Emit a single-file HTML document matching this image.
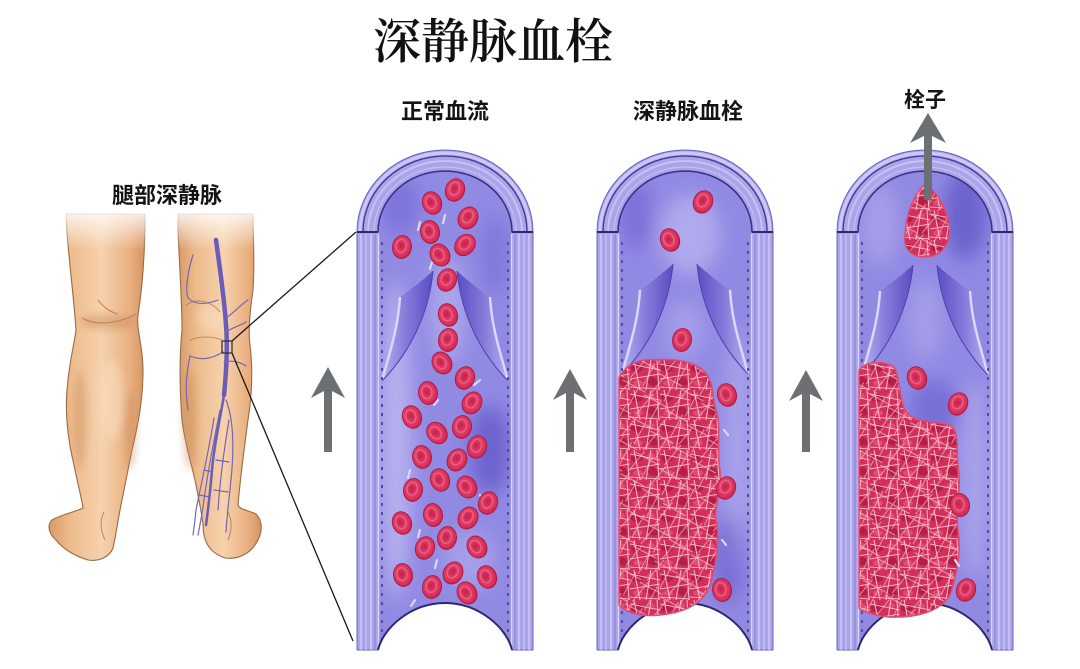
<!DOCTYPE html>
<html><head><meta charset="utf-8">
<style>
html,body{margin:0;padding:0;background:#fff}
body{width:1080px;height:669px;overflow:hidden;position:relative}
.t{position:absolute;white-space:nowrap;font-family:"Liberation Sans","Noto Sans CJK SC",sans-serif;font-weight:bold;color:#141414;line-height:1}
</style></head>
<body>
<svg width="1080" height="669" viewBox="0 0 1080 669" style="position:absolute;left:0;top:0">
<defs>
  <linearGradient id="skin" x1="0" y1="0" x2="1" y2="0">
    <stop offset="0" stop-color="#d99a66"/>
    <stop offset=".22" stop-color="#edbb8c"/>
    <stop offset=".55" stop-color="#f6d2ad"/>
    <stop offset=".85" stop-color="#e9ae7e"/>
    <stop offset="1" stop-color="#d49463"/>
  </linearGradient>
  <linearGradient id="fadeTop" x1="0" y1="0" x2="0" y2="1">
    <stop offset="0" stop-color="#fff" stop-opacity="1"/>
    <stop offset="1" stop-color="#fff" stop-opacity="0"/>
  </linearGradient>
  <radialGradient id="rg" cx=".45" cy=".45" r=".6">
    <stop offset="0" stop-color="#c41f48"/>
    <stop offset=".5" stop-color="#e0406a"/>
    <stop offset=".8" stop-color="#d62c57"/>
    <stop offset="1" stop-color="#bb1c45"/>
  </radialGradient>
  <linearGradient id="leafL" x1="0" y1="0" x2="1" y2="0">
    <stop offset="0" stop-color="#b3adef"/>
    <stop offset=".5" stop-color="#8378d9"/>
    <stop offset="1" stop-color="#5a4ec2"/>
  </linearGradient>
  <linearGradient id="leafR" x1="1" y1="0" x2="0" y2="0">
    <stop offset="0" stop-color="#b3adef"/>
    <stop offset=".5" stop-color="#8378d9"/>
    <stop offset="1" stop-color="#5a4ec2"/>
  </linearGradient>
  <filter id="bl" x="-50%" y="-50%" width="200%" height="200%"><feGaussianBlur stdDeviation="9"/></filter>
  <filter id="bl2" x="-50%" y="-50%" width="200%" height="200%"><feGaussianBlur stdDeviation="4"/></filter>

  <pattern id="clotp" width="30" height="30" patternUnits="userSpaceOnUse">
    <rect width="30" height="30" fill="#d42e5a"/>
    <ellipse cx="7" cy="8" rx="6" ry="4" fill="#b51e48"/>
    <ellipse cx="22" cy="21" rx="6" ry="4" fill="#b51e48" transform="rotate(30 22 21)"/>
    <ellipse cx="21" cy="6" rx="4" ry="3" fill="#e24b74"/>
    <ellipse cx="8" cy="23" rx="5" ry="3" fill="#e24b74"/>
    <g stroke="#f4b4c3" stroke-width="1.1" fill="none">
      <path d="M0,4 L30,10"/><path d="M0,19 L30,14"/><path d="M4,0 L10,30"/>
      <path d="M21,0 L16,30"/><path d="M0,27 L30,29"/><path d="M27,0 L29,30"/>
    </g>
  </pattern>
  <pattern id="clotq" width="26" height="26" patternUnits="userSpaceOnUse" patternTransform="rotate(35)">
    <path d="M0,6 L26,3 M7,0 L5,26 M17,0 L20,26" stroke="#f8cfd8" stroke-width=".9" fill="none" opacity=".7"/>
  </pattern>

  <g id="rbc">
    <ellipse rx="9.5" ry="11.5" fill="url(#rg)" stroke="#a8173c" stroke-width=".8"/>
    <ellipse cx="-1" cy="-1" rx="5" ry="6.5" fill="none" stroke="#ef6d8c" stroke-width="1.4" opacity=".7"/>
  </g>

  <g id="vessel">
    <path d="M0,650 V232 A88,82 0 0 1 176,232 V650 H155 C150,628 122,603 88,603 C54,603 26,628 21,650 Z" fill="#aaa4e9" stroke="#6a61c0" stroke-width="1"/>
    <g fill="none">
      <path d="M3,232 A85,79 0 0 1 173,232" stroke="#cdc9f6" stroke-width="3"/>
      <path d="M6,232 A82,76 0 0 1 170,232" stroke="#3f3690" stroke-width="1.3"/>
      <path d="M11,232 A77,71 0 0 1 165,232" stroke="#c8c3f5" stroke-width="2"/>
      <path d="M17,232 A71,65 0 0 1 159,232" stroke="#c4bff3" stroke-width="1.2"/>
    </g>
    <g stroke-width="1.5">
      <line x1="4" y1="234" x2="4" y2="650" stroke="#cdc9f6"/>
      <line x1="9" y1="234" x2="9" y2="650" stroke="#c3bef3"/>
      <line x1="14" y1="234" x2="14" y2="650" stroke="#cfcbf6"/>
      <line x1="18" y1="234" x2="18" y2="650" stroke="#938bdb"/>
      <line x1="172" y1="234" x2="172" y2="650" stroke="#cdc9f6"/>
      <line x1="167" y1="234" x2="167" y2="650" stroke="#c3bef3"/>
      <line x1="162" y1="234" x2="162" y2="650" stroke="#cfcbf6"/>
      <line x1="158" y1="234" x2="158" y2="650" stroke="#938bdb"/>
    </g>
    <path d="M21,650 V232 A67,61 0 0 1 155,232 V650 C150,628 122,603 88,603 C54,603 26,628 21,650 Z" fill="#918ae3"/>
  </g>
  <g id="vesselTop">
    <path d="M21,232 A67,61 0 0 1 155,232" fill="none" stroke="#3a3288" stroke-width="1.6"/>
    <line x1="0" y1="232" x2="21" y2="232" stroke="#2e2870" stroke-width="2"/>
    <line x1="155" y1="232" x2="176" y2="232" stroke="#2e2870" stroke-width="2"/>
    <line x1="21.5" y1="234" x2="21.5" y2="648" stroke="#d6d2f8" stroke-width="1.5"/>
    <line x1="154.5" y1="234" x2="154.5" y2="648" stroke="#d6d2f8" stroke-width="1.5"/>
    <line x1="25" y1="242" x2="25" y2="640" stroke="#5b48a8" stroke-width="2" stroke-dasharray="3 6"/>
    <line x1="151" y1="242" x2="151" y2="640" stroke="#5b48a8" stroke-width="2" stroke-dasharray="3 6"/>
    <path d="M21,650 C26,628 54,603 88,603 C122,603 150,628 155,650" fill="none" stroke="#2f2870" stroke-width="2"/>
  </g>
  <g id="valves">
    <path d="M43,26 C55,18 67,8 76,0 C73,32 60,74 25,110 C31,86 41,60 43,26 Z" fill="url(#leafL)"/>
    <path d="M43,26 C41,60 31,86 25,110" fill="none" stroke="#dcd8fa" stroke-width="2.4"/>
    <path d="M76,0 C73,32 60,74 25,110" fill="none" stroke="#4d42ad" stroke-width="1"/>
    <path d="M133,26 C121,18 109,8 100,0 C103,32 116,74 151,110 C145,86 135,60 133,26 Z" fill="url(#leafR)"/>
    <path d="M133,26 C135,60 145,86 151,110" fill="none" stroke="#dcd8fa" stroke-width="2.4"/>
    <path d="M100,0 C103,32 116,74 151,110" fill="none" stroke="#4d42ad" stroke-width="1"/>
  </g>

  <clipPath id="c1"><path transform="translate(357,0)" d="M21,650 V232 A67,61 0 0 1 155,232 V650 C150,628 122,603 88,603 C54,603 26,628 21,650 Z"/></clipPath>
  <clipPath id="c2"><path transform="translate(597,0)" d="M21,650 V232 A67,61 0 0 1 155,232 V650 C150,628 122,603 88,603 C54,603 26,628 21,650 Z"/></clipPath>
  <clipPath id="c3"><path transform="translate(837,0)" d="M21,650 V232 A67,61 0 0 1 155,232 V650 C150,628 122,603 88,603 C54,603 26,628 21,650 Z"/></clipPath>
</defs>

<!-- ===== LEGS ===== -->
<g stroke="#9a6a44" stroke-width="1.1">
  <path d="M66,214 L67,233 C70,270 74,300 76,330 C74,345 70,360 68,380 C64,410 68,440 74,465 C78,485 82,500 83,508 C75,512 60,515 52,520 C46,526 50,535 56,540 C64,550 75,556 88,560 C100,562 110,556 113,548 C116,535 118,520 120,510 C124,490 128,470 132,450 C138,425 143,400 143,370 C143,345 136,330 138,315 C142,290 145,260 145,214 Z" fill="url(#skin)"/>
  <path d="M178,214 L178,233 C180,270 182,310 182,330 C180,350 179,380 182,420 C185,445 192,465 196,485 C199,500 202,515 203,525 C203,540 208,552 225,558 C240,560 252,552 258,540 C263,530 262,520 256,514 C248,510 240,510 238,505 C240,480 244,450 248,420 C252,395 253,370 250,345 C248,330 250,310 253,290 C255,260 253,240 253,214 Z" fill="url(#skin)"/>
</g>
<g opacity=".45" filter="url(#bl2)">
  <ellipse cx="108" cy="322" rx="28" ry="7" fill="#c58555"/>
  <ellipse cx="80" cy="420" rx="6" ry="50" fill="#c98a5a"/>
  <ellipse cx="130" cy="430" rx="6" ry="40" fill="#c98a5a"/>
  <ellipse cx="112" cy="400" rx="12" ry="40" fill="#fbe3ca"/>
  <ellipse cx="190" cy="420" rx="7" ry="50" fill="#c98a5a"/>
  <ellipse cx="212" cy="318" rx="14" ry="14" fill="#fbe3ca"/>
</g>
<g fill="none" stroke="#b67a4e" stroke-width="1.1" opacity=".8">
  <path d="M82,318 C95,326 118,324 136,314"/>
  <path d="M98,300 C104,308 110,312 118,314"/>
  <path d="M186,305 C196,298 210,300 220,312"/>
  <path d="M190,340 C200,336 212,336 222,340"/>
  <path d="M105,540 C100,530 100,520 104,512"/>
  <path d="M228,540 C232,530 232,520 228,512"/>
</g>
<rect x="40" y="205" width="230" height="45" fill="url(#fadeTop)"/>
<g fill="none" stroke-linecap="round">
  <path d="M216,240 C220,270 224,295 226,325 C228,350 226,375 224,395" stroke="#6b5cb8" stroke-width="4.5"/>
  <path d="M224,395 C220,420 214,445 212,470 C210,495 208,510 206,525" stroke="#6b5cb8" stroke-width="2.5"/>
  <g stroke="#7566b6" stroke-width="1.2">
    <path d="M226,400 C234,420 234,450 231,480 C229,500 227,515 226,532"/>
    <path d="M220,410 C214,440 208,470 204,500 C202,515 200,525 198,535"/>
    <path d="M214,418 C209,450 202,480 196,510 C195,520 194,528 193,535"/>
    <path d="M229,420 C224,450 220,480 218,510"/>
    <path d="M204,470 L212,472 M200,495 L209,497 M216,460 L229,462 M214,490 L228,492"/>
    <path d="M218,300 C205,305 195,305 188,298 C185,290 188,270 193,255"/>
    <path d="M226,318 C235,312 240,305 248,300"/>
    <path d="M226,332 C233,327 240,326 246,322"/>
    <path d="M223,352 C210,360 200,360 190,356 C186,375 185,390 188,410"/>
    <path d="M224,362 C232,360 240,362 246,366"/>
  </g>
</g>
<rect x="222" y="341" width="10" height="12" fill="none" stroke="#2a2a2a" stroke-width="1.2"/>
<line x1="232" y1="341" x2="356" y2="232" stroke="#1a1a1a" stroke-width="1.3"/>
<line x1="232" y1="353" x2="353" y2="641" stroke="#1a1a1a" stroke-width="1.3"/>

<!-- ===== VESSELS ===== -->
<use href="#vessel" transform="translate(357,0)"/>
<use href="#vessel" transform="translate(597,0)"/>
<use href="#vessel" transform="translate(837,0)"/>

<g clip-path="url(#c1)">
  <g filter="url(#bl)">
    <ellipse cx="396" cy="440" rx="16" ry="160" fill="#c6c1f4" opacity=".7"/>
    <ellipse cx="490" cy="450" rx="20" ry="45" fill="#5548c0" opacity=".6"/>
    <ellipse cx="400" cy="205" rx="18" ry="30" fill="#6a5ed0" opacity=".5"/>
    <ellipse cx="448" cy="310" rx="18" ry="55" fill="#bdb7f2" opacity=".6"/>
    <ellipse cx="495" cy="255" rx="15" ry="40" fill="#6a5ed0" opacity=".4"/>
    <ellipse cx="470" cy="560" rx="25" ry="30" fill="#b9b3f0" opacity=".5"/>
  </g>
</g>
<g clip-path="url(#c2)">
  <g filter="url(#bl)">
    <ellipse cx="690" cy="235" rx="30" ry="40" fill="#bdb7f2" opacity=".7"/>
    <ellipse cx="636" cy="215" rx="16" ry="35" fill="#6558cc" opacity=".5"/>
    <ellipse cx="738" cy="450" rx="14" ry="120" fill="#b8b2f0" opacity=".6"/>
    <ellipse cx="728" cy="560" rx="16" ry="45" fill="#5f52c6" opacity=".5"/>
    <ellipse cx="685" cy="330" rx="20" ry="30" fill="#b5aff0" opacity=".5"/>
  </g>
</g>
<g clip-path="url(#c3)">
  <g filter="url(#bl)">
    <ellipse cx="965" cy="215" rx="22" ry="45" fill="#5448c0" opacity=".6"/>
    <ellipse cx="880" cy="225" rx="18" ry="40" fill="#bab4f2" opacity=".5"/>
    <ellipse cx="925" cy="320" rx="18" ry="40" fill="#b5aff0" opacity=".5"/>
    <ellipse cx="935" cy="410" rx="25" ry="30" fill="#5a4ec4" opacity=".45"/>
    <ellipse cx="975" cy="480" rx="14" ry="100" fill="#b8b2f0" opacity=".6"/>
  </g>
</g>

<use href="#valves" transform="translate(357,271)"/>
<use href="#valves" transform="translate(597,264)"/>
<use href="#valves" transform="translate(837,265)"/>

<use href="#vesselTop" transform="translate(357,0)"/>
<use href="#vesselTop" transform="translate(597,0)"/>
<use href="#vesselTop" transform="translate(837,0)"/>

<g>
  <path d="M619,378 C625,365 640,358 655,360 C675,358 695,362 705,372 C715,385 712,400 716,410 C722,430 716,450 720,470 C722,490 714,505 716,520 C720,540 716,560 712,578 C708,600 690,612 660,615 C640,617 625,612 619,605 Z" fill="url(#clotp)"/>
  <path d="M619,378 C625,365 640,358 655,360 C675,358 695,362 705,372 C715,385 712,400 716,410 C722,430 716,450 720,470 C722,490 714,505 716,520 C720,540 716,560 712,578 C708,600 690,612 660,615 C640,617 625,612 619,605 Z" fill="url(#clotq)" stroke="#e04a73" stroke-width="1.5"/>
  <path d="M859,370 C865,362 880,360 893,366 C900,372 898,395 905,410 C915,425 935,420 950,425 C960,432 956,450 958,465 C962,490 955,510 958,530 C962,555 955,580 950,595 C940,612 915,618 890,617 C875,616 864,612 859,608 Z" fill="url(#clotp)"/>
  <path d="M859,370 C865,362 880,360 893,366 C900,372 898,395 905,410 C915,425 935,420 950,425 C960,432 956,450 958,465 C962,490 955,510 958,530 C962,555 955,580 950,595 C940,612 915,618 890,617 C875,616 864,612 859,608 Z" fill="url(#clotq)" stroke="#e04a73" stroke-width="1.5"/>
  <path d="M925,184 C935,190 946,205 949,225 C952,245 940,257 925,257 C912,257 903,250 905,235 C906,215 913,195 925,184 Z" fill="url(#clotp)"/>
  <path d="M925,184 C935,190 946,205 949,225 C952,245 940,257 925,257 C912,257 903,250 905,235 C906,215 913,195 925,184 Z" fill="url(#clotq)" stroke="#e04a73" stroke-width="1.5"/>
</g>

<g stroke="#dcd7fa" stroke-width="2.2" stroke-linecap="round">
  <line x1="420" y1="222" x2="418" y2="230"/><line x1="445" y1="215" x2="443" y2="223"/>
  <line x1="432" y1="262" x2="430" y2="269"/><line x1="474" y1="385" x2="480" y2="380"/>
  <line x1="438" y1="400" x2="434" y2="405"/><line x1="410" y1="470" x2="408" y2="478"/>
  <line x1="420" y1="530" x2="418" y2="537"/><line x1="437" y1="560" x2="435" y2="568"/>
  <line x1="415" y1="600" x2="411" y2="606"/><line x1="480" y1="495" x2="483" y2="500"/>
  <line x1="724" y1="430" x2="728" y2="435"/><line x1="722" y1="540" x2="726" y2="545"/>
  <line x1="955" y1="560" x2="959" y2="566"/>
</g>

<g>
  <use href="#rbc" transform="translate(455,190) rotate(20)"/>
  <use href="#rbc" transform="translate(432,203) rotate(-20)"/>
  <use href="#rbc" transform="translate(468,218) rotate(30)"/>
  <use href="#rbc" transform="translate(430,232) rotate(-10)"/>
  <use href="#rbc" transform="translate(402,247) rotate(10)"/>
  <use href="#rbc" transform="translate(465,245) rotate(40)"/>
  <use href="#rbc" transform="translate(440,255) rotate(-30)"/>
  <use href="#rbc" transform="translate(447,280) rotate(20)"/>
  <use href="#rbc" transform="translate(448,315) rotate(-20)"/>
  <use href="#rbc" transform="translate(448,340) rotate(10)"/>
  <use href="#rbc" transform="translate(442,363) rotate(-30)"/>
  <use href="#rbc" transform="translate(465,378) rotate(20)"/>
  <use href="#rbc" transform="translate(428,393) rotate(-10)"/>
  <use href="#rbc" transform="translate(472,403) rotate(30)"/>
  <use href="#rbc" transform="translate(412,417) rotate(-20)"/>
  <use href="#rbc" transform="translate(462,427) rotate(10)"/>
  <use href="#rbc" transform="translate(437,433) rotate(-40)"/>
  <use href="#rbc" transform="translate(477,447) rotate(20)"/>
  <use href="#rbc" transform="translate(422,457) rotate(-10)"/>
  <use href="#rbc" transform="translate(457,460) rotate(30)"/>
  <use href="#rbc" transform="translate(440,480) rotate(-20)"/>
  <use href="#rbc" transform="translate(413,490) rotate(10)"/>
  <use href="#rbc" transform="translate(467,487) rotate(-30)"/>
  <use href="#rbc" transform="translate(488,503) rotate(20)"/>
  <use href="#rbc" transform="translate(433,515) rotate(-10)"/>
  <use href="#rbc" transform="translate(468,518) rotate(30)"/>
  <use href="#rbc" transform="translate(402,523) rotate(-20)"/>
  <use href="#rbc" transform="translate(447,538) rotate(10)"/>
  <use href="#rbc" transform="translate(477,547) rotate(-30)"/>
  <use href="#rbc" transform="translate(425,548) rotate(20)"/>
  <use href="#rbc" transform="translate(403,575) rotate(-10)"/>
  <use href="#rbc" transform="translate(453,573) rotate(30)"/>
  <use href="#rbc" transform="translate(487,577) rotate(-20)"/>
  <use href="#rbc" transform="translate(432,587) rotate(10)"/>
  <use href="#rbc" transform="translate(467,593) rotate(-30)"/>

  <use href="#rbc" transform="translate(703,202) rotate(25)"/>
  <use href="#rbc" transform="translate(670,240) rotate(-20)"/>
  <use href="#rbc" transform="translate(682,340) rotate(10)"/>
  <use href="#rbc" transform="translate(727,395) rotate(-15)"/>
  <use href="#rbc" transform="translate(726,488) rotate(20)"/>
  <use href="#rbc" transform="translate(722,590) rotate(-10)"/>

  <use href="#rbc" transform="translate(917,378) rotate(-20)"/>
  <use href="#rbc" transform="translate(958,404) rotate(25)"/>
  <use href="#rbc" transform="translate(960,505) rotate(-10)"/>
  <use href="#rbc" transform="translate(966,590) rotate(20)"/>
</g>

<g fill="#6d7072">
  <polygon points="328,367 345,398 332,391 332,452 324,452 324,391 311,398"/>
  <polygon points="570,369 587,400 574,393 574,452 566,452 566,393 553,400"/>
  <polygon points="806,370 823,401 810,394 810,452 802,452 802,394 789,401"/>
  <polygon points="928,113 946,143 932,136 932,200 924,200 924,136 910,143"/>
</g>
</svg>

<div class="t" style="left:373px;top:19px;font-size:48px;font-family:'Liberation Serif','Noto Serif CJK SC',serif;font-weight:600;color:#111">深静脉血栓</div>
<div class="t" style="left:401px;top:101px;font-size:22px">正常血流</div>
<div class="t" style="left:633px;top:101px;font-size:22px">深静脉血栓</div>
<div class="t" style="left:904px;top:90px;font-size:21px">栓子</div>
<div class="t" style="left:112px;top:185px;font-size:22px">腿部深静脉</div>
</body></html>
